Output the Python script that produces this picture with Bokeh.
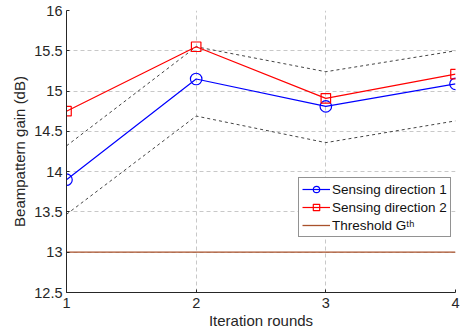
from bokeh.plotting import figure
from bokeh.models import Legend, LegendItem, FixedTicker, Range1d
from bokeh.embed import file_html
from bokeh.resources import INLINE

rounds = [1, 2, 3, 4]
dir1 = [13.90, 15.15, 14.81, 15.09]
dir2 = [14.75, 15.55, 14.91, 15.21]
upper = [14.32, 15.55, 15.24, 15.50]
lower = [13.47, 14.69, 14.36, 14.63]
threshold = [13.0, 13.0, 13.0, 13.0]
y_ticks = [12.5, 13, 13.5, 14, 14.5, 15, 15.5, 16]
y_tick_labels = ["12.5", "13", "13.5", "14", "14.5", "15", "15.5", "16"]
x_ticks = [1, 2, 3, 4]
x_tick_labels = ["1", "2", "3", "4"]

FONT = "Liberation Sans"

p = figure(width=460, height=334, output_backend="svg", toolbar_location=None,
           x_range=Range1d(1, 4), y_range=Range1d(12.5, 16),
           min_border_left=66, min_border_right=5, min_border_top=10, min_border_bottom=42)

p.outline_line_color = None
p.background_fill_color = "white"

for g in (p.xgrid, p.ygrid):
    g.grid_line_color = "#c8c8c8"
    g.grid_line_dash = "4 3"
    g.grid_line_width = 1

p.xaxis.ticker = FixedTicker(ticks=x_ticks)
p.yaxis.ticker = FixedTicker(ticks=y_ticks)
p.xaxis.major_label_overrides = {t: l for t, l in zip(x_ticks, x_tick_labels)}
p.yaxis.major_label_overrides = {t: l for t, l in zip(y_ticks, y_tick_labels)}
p.xgrid.ticker = FixedTicker(ticks=x_ticks)
p.ygrid.ticker = FixedTicker(ticks=y_ticks)

for ax in (p.xaxis, p.yaxis):
    ax.axis_line_color = "#262626"
    ax.major_tick_line_color = "#262626"
    ax.major_tick_in = 3
    ax.major_tick_out = 0
    ax.minor_tick_line_color = None
    ax.major_label_text_font = FONT
    ax.major_label_text_font_size = "14.5px"
    ax.major_label_text_color = "#262626"
    ax.axis_label_text_font = FONT
    ax.axis_label_text_font_size = "15px"
    ax.axis_label_text_font_style = "normal"
    ax.axis_label_text_color = "#262626"

p.xaxis.axis_label = "Iteration rounds"
p.yaxis.axis_label = "Beampattern gain (dB)"
p.xaxis.major_label_standoff = 5
p.yaxis.major_label_standoff = 4
p.xaxis.axis_label_standoff = 1
p.yaxis.axis_label_standoff = 3

p.line(rounds, upper, line_color="#444444", line_dash="3 3", line_width=1)
p.line(rounds, lower, line_color="#444444", line_dash="3 3", line_width=1)

r_th = p.line(rounds, threshold, line_color="#A9512B", line_width=1.3)

r1l = p.line(rounds, dir1, line_color="#0000ff", line_width=1.2)
r1m = p.scatter(rounds, dir1, marker="circle", size=11.5, line_color="#0000ff",
                fill_color=None, line_width=1.2)
r2l = p.line(rounds, dir2, line_color="#ff0000", line_width=1.2)
r2m = p.scatter(rounds, dir2, marker="square", size=9.5, line_color="#ff0000",
                fill_color=None, line_width=1.2)

legend = Legend(items=[
    LegendItem(label="Sensing direction 1", renderers=[r1l, r1m]),
    LegendItem(label="Sensing direction 2", renderers=[r2l, r2m]),
    LegendItem(label="Threshold G\u1d57\u02b0", renderers=[r_th]),
], location=(232, 55))
legend.label_text_font = FONT
legend.label_text_font_size = "13.5px"
legend.label_text_color = "#111111"
legend.border_line_color = "#262626"
legend.border_line_width = 1
legend.background_fill_alpha = 1
legend.glyph_width = 28
legend.glyph_height = 16
legend.label_standoff = 2
legend.spacing = 2
legend.padding = 3
legend.margin = 0
legend.label_height = 16
p.add_layout(legend, "center")

open("out.html", "w").write(file_html(p, INLINE))
